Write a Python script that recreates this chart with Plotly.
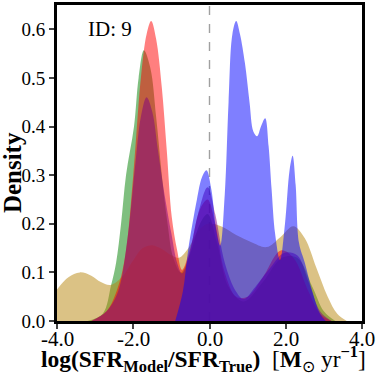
import plotly.graph_objects as go

# KDE curves (x in log SFR ratio, y = density)
green_x = [-3.2, -2.8, -2.58, -2.45, -2.32, -2.19, -1.98, -1.86, -1.72, -1.55, -1.4, -1.25, -1.1, -0.95,
           -0.75, -0.5, -0.25, -0.05, 0.2, 0.5, 0.9, 1.4, 1.9, 2.3, 2.7, 3.0, 3.3]
green_y = [0.0, 0.015, 0.074, 0.12, 0.2, 0.3, 0.4, 0.5, 0.557, 0.52, 0.42, 0.3, 0.2, 0.13,
           0.1, 0.14, 0.2, 0.22, 0.16, 0.07, 0.04, 0.08, 0.13, 0.13, 0.07, 0.02, 0.0]

gold_x = [-4.0, -3.7, -3.4, -3.1, -2.85, -2.6, -2.3, -2.0, -1.75, -1.5, -1.25, -1.0, -0.8, -0.55,
          -0.3, -0.05, 0.3, 0.7, 1.1, 1.5, 1.85, 2.2, 2.5, 2.8, 3.1, 3.35, 3.6]
gold_y = [0.065, 0.09, 0.10, 0.093, 0.08, 0.074, 0.09, 0.125, 0.15, 0.156, 0.148, 0.135, 0.13, 0.15,
          0.185, 0.2, 0.195, 0.177, 0.162, 0.152, 0.172, 0.195, 0.17, 0.11, 0.05, 0.015, 0.0]

red_x = [-3.1, -2.7, -2.4, -2.2, -2.0, -1.8, -1.65, -1.53, -1.4, -1.25, -1.12, -0.99, -0.85, -0.72,
         -0.5, -0.25, -0.05, 0.15, 0.4, 0.7, 1.0, 1.4, 1.87, 2.2, 2.6, 2.9, 3.2]
red_y = [0.0, 0.02, 0.07, 0.14, 0.3, 0.5, 0.59, 0.617, 0.58, 0.48, 0.35, 0.214, 0.146, 0.105,
         0.15, 0.23, 0.25, 0.2, 0.1, 0.05, 0.05, 0.09, 0.145, 0.13, 0.06, 0.015, 0.0]

purple_x = [-3.1, -2.7, -2.4, -2.15, -1.95, -1.8, -1.65, -1.5, -1.35, -1.2, -1.0, -0.85, -0.72, -0.55,
            -0.3, -0.05, 0.15, 0.4, 0.7, 0.9, 1.2, 1.6, 1.95, 2.3, 2.6, 2.9, 3.2]
purple_y = [0.0, 0.02, 0.06, 0.17, 0.32, 0.42, 0.46, 0.43, 0.35, 0.27, 0.18, 0.12, 0.098, 0.13,
            0.22, 0.275, 0.22, 0.12, 0.06, 0.045, 0.07, 0.11, 0.14, 0.135, 0.08, 0.02, 0.0]

blue_x = [-0.9, -0.7, -0.56, -0.33, -0.2, -0.08, 0.05, 0.17, 0.28, 0.4, 0.5, 0.6, 0.7, 0.8, 0.93, 1.05,
          1.15, 1.25, 1.35, 1.46, 1.55, 1.63, 1.72, 1.85, 1.98, 2.1, 2.18, 2.26, 2.35, 2.5, 2.7, 2.9, 3.05]
blue_y = [0.0, 0.06, 0.146, 0.25, 0.295, 0.31, 0.27, 0.19, 0.155, 0.26, 0.45, 0.59, 0.617, 0.59, 0.53, 0.45,
          0.39, 0.38, 0.40, 0.417, 0.36, 0.27, 0.18, 0.125, 0.2, 0.31, 0.34, 0.28, 0.16, 0.12, 0.06, 0.015, 0.0]

x_ticks = [-4.0, -2.0, 0.0, 2.0, 4.0]
x_tick_labels = ['-4.0', '-2.0', '0.0', '2.0', '4.0']
y_ticks = [0.0, 0.1, 0.2, 0.3, 0.4, 0.5, 0.6]

series = [
    (green_x, green_y, 'rgba(0,128,0,0.5)'),
    (gold_x, gold_y, 'rgba(184,134,11,0.5)'),
    (red_x, red_y, 'rgba(255,0,0,0.5)'),
    (purple_x, purple_y, 'rgba(128,0,128,0.5)'),
    (blue_x, blue_y, 'rgba(0,0,255,0.5)'),
]

fig = go.Figure()
for xs, ys, col in series:
    fig.add_trace(go.Scatter(
        x=xs, y=ys, mode='lines', fill='tozeroy', fillcolor=col,
        line=dict(width=0, shape='spline', smoothing=1.0, color=col),
        hoverinfo='skip', showlegend=False))

# dashed reference line at zero, drawn under the fills
fig.add_shape(type='line', x0=0, x1=0, y0=0, y1=1, xref='x', yref='paper',
              line=dict(color='#a0a0a0', width=1.4, dash='dash'), layer='below')

font = 'Liberation Serif'
fig.add_annotation(text='ID: 9', x=-2.6, y=0.6, xref='x', yref='y', showarrow=False,
                   font=dict(size=21, color='black', family=font))

# x tick labels sit closer to the axis than plotly's default, so place them by hand
for tv, tt in zip(x_ticks, x_tick_labels):
    fig.add_annotation(text=tt, x=tv, y=0, xref='x', yref='paper', yshift=-18,
                       xanchor='center', yanchor='middle', showarrow=False,
                       font=dict(size=21, family=font, color='black'))

# axis titles as annotations so they sit where the reference has them
fig.add_annotation(text='<b>log(SFR<sub>Model</sub>/SFR<sub>True</sub>)</b>  '
                        '[<b>M</b><sub>⊙</sub> yr<sup><b>−1</b></sup>]',
                   x=0.48, y=0, xref='paper', yref='paper', yshift=-38,
                   xanchor='center', yanchor='middle',
                   showarrow=False, font=dict(size=23.5, family=font, color='black'))
fig.add_annotation(text='<b>Density</b>', x=0, y=0.468, xref='paper', yref='paper',
                   xshift=-45, xanchor='center', yanchor='middle', textangle=-90, showarrow=False,
                   font=dict(size=25, family=font, color='black'))

fig.update_layout(
    width=379, height=379,
    margin=dict(l=57, r=17, t=5, b=58),
    paper_bgcolor='white', plot_bgcolor='white',
    font=dict(family=font, size=20, color='black'),
    xaxis=dict(range=[-4, 4], tickvals=x_ticks, showticklabels=False, automargin=False,
               showgrid=False, zeroline=False, showline=True, linewidth=3, linecolor='black',
               mirror=True, ticks='outside', ticklen=5, tickwidth=1.5),
    yaxis=dict(range=[0, 0.65], tickvals=y_ticks, tickformat='.1f', automargin=False,
               showgrid=False, zeroline=False, showline=True, linewidth=3, linecolor='black',
               mirror=True, ticks='outside', ticklen=5, tickwidth=1.5,
               tickfont=dict(size=19, family=font)),
)

fig.write_html('out.html', config={'displayModeBar': False},
               post_script="document.body.style.margin='0';")
